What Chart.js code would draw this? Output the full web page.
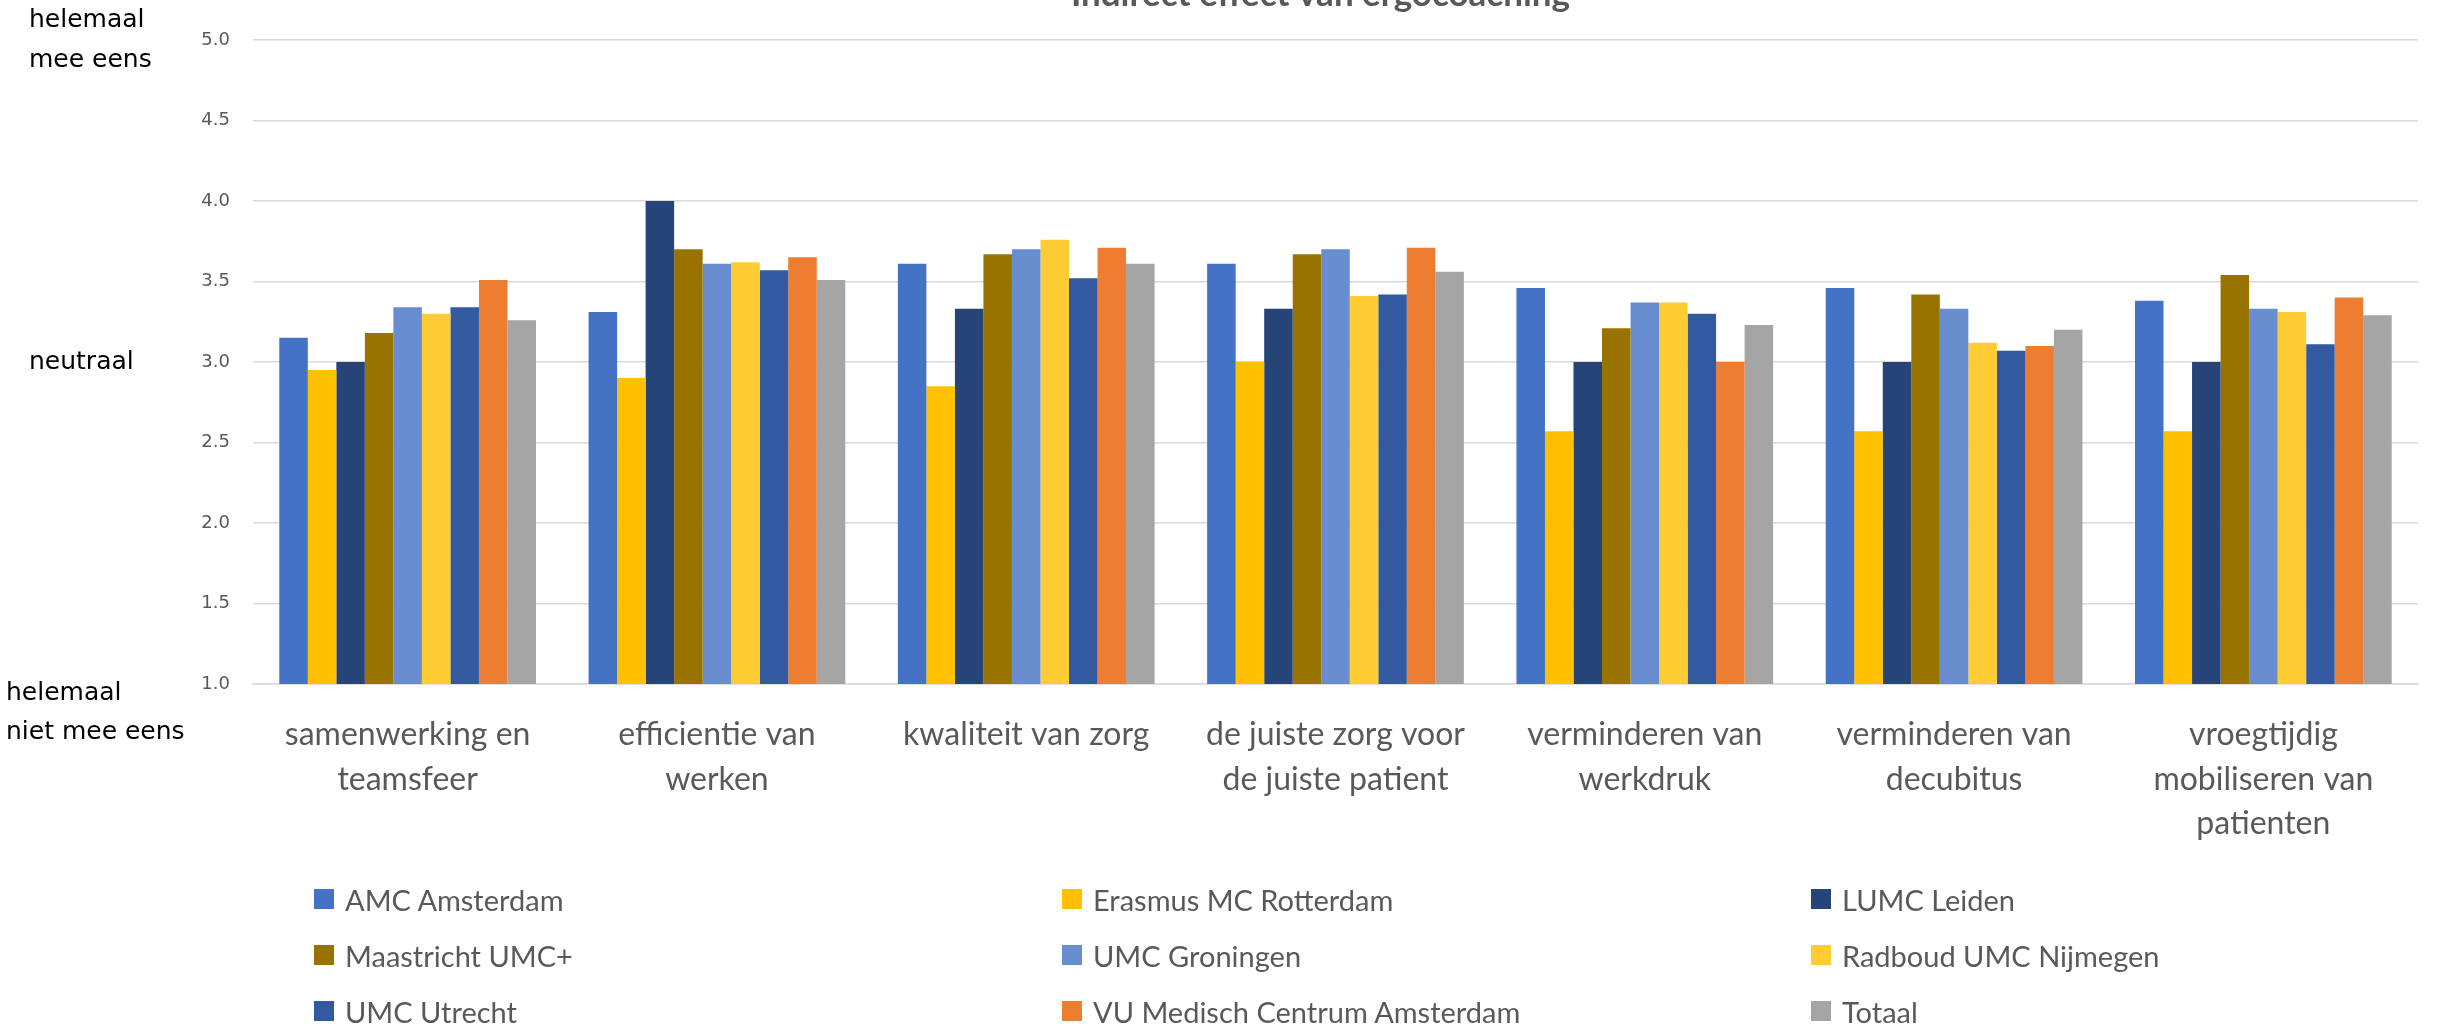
<!DOCTYPE html>
<html>
<head>
<meta charset="utf-8">
<script src="https://cdn.jsdelivr.net/npm/chart.js@4.4.1/dist/chart.umd.min.js"></script>
<style>
  html, body { margin: 0; padding: 0; background: #fff; }
  #wrap { position: relative; width: 2438px; height: 1031px; overflow: hidden; }
  #legend {
    position: absolute; left: 314px; top: 871px;
    display: grid; grid-template-columns: 748px 749px 560px; grid-auto-rows: 56px;
    font-family: Lato, sans-serif; font-size: 29px; color: #595959;
  }
  .item { display: flex; align-items: center; white-space: nowrap; }
  .box { width: 20px; height: 20px; margin-right: 11px; flex: none; }
</style>
</head>
<body>
<div id="wrap">
  <canvas id="chart" width="2438" height="1031"></canvas>
  <div id="legend"></div>
</div>
<script>
// --- data ---
const TITLE = 'Indirect effect van ergocoaching';

const CATEGORIES = [
    ['samenwerking en', 'teamsfeer'],
    ['efficientie van', 'werken'],
    ['kwaliteit van zorg'],
    ['de juiste zorg voor', 'de juiste patient'],
    ['verminderen van', 'werkdruk'],
    ['verminderen van', 'decubitus'],
    ['vroegtijdig', 'mobiliseren van', 'patienten']
];

const SERIES_NAMES = [
    'AMC Amsterdam', 'Erasmus MC Rotterdam', 'LUMC Leiden',
    'Maastricht UMC+', 'UMC Groningen', 'Radboud UMC Nijmegen',
    'UMC Utrecht', 'VU Medisch Centrum Amsterdam', 'Totaal'
];

const AMC_AMSTERDAM   = [3.15, 3.31, 3.61, 3.61, 3.46, 3.46, 3.38];
const ERASMUS_MC      = [2.95, 2.90, 2.85, 3.00, 2.57, 2.57, 2.57];
const LUMC_LEIDEN     = [3.00, 4.00, 3.33, 3.33, 3.00, 3.00, 3.00];
const MAASTRICHT_UMC  = [3.18, 3.70, 3.67, 3.67, 3.21, 3.42, 3.54];
const UMC_GRONINGEN   = [3.34, 3.61, 3.70, 3.70, 3.37, 3.33, 3.33];
const RADBOUD_UMC     = [3.30, 3.62, 3.76, 3.41, 3.37, 3.12, 3.31];
const UMC_UTRECHT     = [3.34, 3.57, 3.52, 3.42, 3.30, 3.07, 3.11];
const VU_MC           = [3.51, 3.65, 3.71, 3.71, 3.00, 3.10, 3.40];
const TOTAAL          = [3.26, 3.51, 3.61, 3.56, 3.23, 3.20, 3.29];

const SERIES_VALUES = [AMC_AMSTERDAM, ERASMUS_MC, LUMC_LEIDEN, MAASTRICHT_UMC,
    UMC_GRONINGEN, RADBOUD_UMC, UMC_UTRECHT, VU_MC, TOTAAL];

// answer scale, shown left of the y axis
const SCALE_LABELS = [
    { value: 5, lines: ['helemaal', 'mee eens'] },
    { value: 3, lines: ['neutraal'] },
    { value: 1, lines: ['helemaal', 'niet mee eens'] }
];

const Y_MIN = 1, Y_MAX = 5, Y_STEP = 0.5;

// --- styles ---
const COLORS = ['#4472C4', '#FFC000', '#264478', '#997300', '#698ED0',
    '#FFCD33', '#335AA1', '#ED7D31', '#A5A5A5'];
const GRID = '#D9D9D9';
const TEXT = '#595959';

// draws the (cut off) title and the answer-scale labels
const extraText = {
    id: 'extraText',
    afterDraw(chart) {
        const ctx = chart.ctx;
        const area = chart.chartArea;
        const y = chart.scales.y;
        ctx.save();

        ctx.fillStyle = TEXT;
        ctx.font = 'bold 35px Lato';
        ctx.textAlign = 'center';
        ctx.textBaseline = 'alphabetic';
        ctx.fillText(TITLE, (area.left + area.right) / 2 - 15, 6);

        ctx.fillStyle = '#000';
        ctx.font = '25px "DejaVu Sans"';
        ctx.textAlign = 'left';
        ctx.textBaseline = 'middle';
        SCALE_LABELS.forEach(item => {
            const py = y.getPixelForValue(item.value);
            if (item.value === Y_MIN) {
                item.lines.forEach((line, i) => ctx.fillText(line, 6, py + 9 + i * 39));
            } else if (item.lines.length === 2) {
                ctx.fillText(item.lines[0], 29, py - 20);
                ctx.fillText(item.lines[1], 29, py + 20);
            } else {
                ctx.fillText(item.lines[0], 29, py);
            }
        });
        ctx.restore();
    }
};

const datasets = SERIES_NAMES.map((name, i) => ({
    label: name,
    data: SERIES_VALUES[i],
    backgroundColor: COLORS[i],
    borderWidth: 0
}));

const chart = new Chart(document.getElementById('chart'), {
    type: 'bar',
    data: { labels: CATEGORIES, datasets: datasets },
    options: {
        responsive: false,
        animation: false,
        layout: { padding: { top: 40, right: 20, bottom: 160, left: 0 } },
        datasets: { bar: { categoryPercentage: 0.83, barPercentage: 1.0 } },
        plugins: {
            legend: { display: false },
            tooltip: { enabled: false },
            title: { display: false }
        },
        scales: {
            x: {
                grid: { display: false },
                border: { display: true, color: GRID, width: 1.5 },
                ticks: {
                    color: TEXT,
                    padding: 20,
                    maxRotation: 0,
                    autoSkip: false,
                    font: { family: 'Lato', size: 32, lineHeight: 1.4 }
                },
                afterFit(scale) { scale.height = 187; }
            },
            y: {
                min: Y_MIN,
                max: Y_MAX,
                grid: { color: GRID, lineWidth: 1.5, drawTicks: false },
                border: { display: false },
                ticks: {
                    stepSize: Y_STEP,
                    color: TEXT,
                    padding: 23,
                    font: { family: 'DejaVu Sans', size: 18 },
                    callback: v => v.toFixed(1)
                },
                afterFit(scale) { scale.width = 253; }
            }
        }
    },
    plugins: [extraText]
});

// --- legend in three columns ---
const legend = document.getElementById('legend');
chart.data.datasets.forEach(ds => {
    const item = document.createElement('div');
    item.className = 'item';
    item.innerHTML = `<span class="box" style="background:${ds.backgroundColor}"></span><span>${ds.label}</span>`;
    legend.appendChild(item);
});
</script>
</body>
</html>
